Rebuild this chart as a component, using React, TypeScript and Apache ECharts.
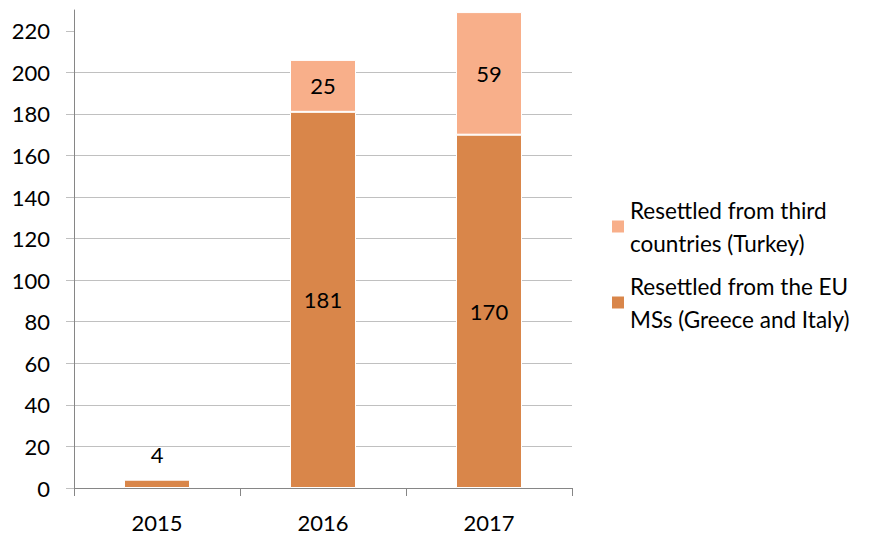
import React, { useEffect, useRef } from "react";
import * as echarts from "echarts";

const categories = ["2015", "2016", "2017"];
const euMSs = [4, 181, 170];
const thirdCountries: (number | null)[] = [null, 25, 59];
const yTicks = [0, 20, 40, 60, 80, 100, 120, 140, 160, 180, 200, 220];

const nameThird = "Resettled from third countries (Turkey)";
const nameEU = "Resettled from the EU MSs (Greece and Italy)";
const legendLines: Record<string, string> = {
  [nameThird]: "Resettled from third\ncountries (Turkey)",
  [nameEU]: "Resettled from the EU\nMSs (Greece and Italy)",
};

const FONT = "Lato";
const DARK = "#D9864A";
const LIGHT = "#F8AF8A";
const GRID = "#C0C0C0";
const AXIS = "#868686";

export default function App() {
  const ref = useRef<HTMLDivElement>(null);
  useEffect(() => {
    if (!ref.current) return;
    const chart = echarts.init(ref.current, null, { renderer: "svg" });
    chart.setOption({
      animation: false,
      textStyle: { fontFamily: FONT },
      grid: { left: 66, right: 292, top: 2, bottom: 46, containLabel: false },
      legend: {
        orient: "vertical",
        left: 597,
        top: 164,
        itemWidth: 14,
        itemHeight: 14,
        itemGap: -23,
        icon: "rect",
        data: [nameThird, nameEU],
        formatter: (n: string) => legendLines[n] ?? n,
        textStyle: {
          fontFamily: FONT,
          fontSize: 22.5,
          color: "#000",
          lineHeight: 33,
          padding: [33, 0, 0, 0],
        },
      },
      xAxis: {
        type: "category",
        data: categories,
        boundaryGap: true,
        axisLine: { lineStyle: { color: AXIS, width: 1 } },
        axisTick: { show: true, length: 8, lineStyle: { color: AXIS } },
        axisLabel: { color: "#000", fontSize: 22, fontFamily: FONT, margin: 23 },
      },
      yAxis: {
        type: "value",
        min: 0,
        max: 230,
        interval: 20,
        axisLine: { show: true, lineStyle: { color: AXIS, width: 1 } },
        axisTick: {
          show: true,
          length: 8,
          customValues: yTicks,
          lineStyle: { color: GRID },
        },
        axisLabel: {
          customValues: yTicks,
          color: "#000",
          fontSize: 22,
          fontFamily: FONT,
          margin: 24,
        },
        splitLine: {
          show: true,
          showMaxLine: false,
          lineStyle: { color: GRID, width: 1 },
        },
      },
      series: [
        {
          name: nameEU,
          type: "bar",
          stack: "total",
          barWidth: 66,
          data: euMSs.map((v, i) => ({
            value: v,
            label: {
              show: true,
              position: i === 0 ? "top" : "inside",
              distance: 14,
            },
          })),
          itemStyle: { color: DARK, borderColor: "#fff", borderWidth: 1 },
          label: { color: "#000", fontSize: 22, fontFamily: FONT },
        },
        {
          name: nameThird,
          type: "bar",
          stack: "total",
          barWidth: 66,
          data: thirdCountries,
          itemStyle: { color: LIGHT, borderColor: "#fff", borderWidth: 1 },
          label: {
            show: true,
            position: "inside",
            color: "#000",
            fontSize: 22,
            fontFamily: FONT,
            formatter: (p: any) => (p.value == null ? "" : String(p.value)),
          },
        },
      ],
    });
    return () => chart.dispose();
  }, []);
  return <div ref={ref} style={{ width: 856, height: 526 }} />;
}
